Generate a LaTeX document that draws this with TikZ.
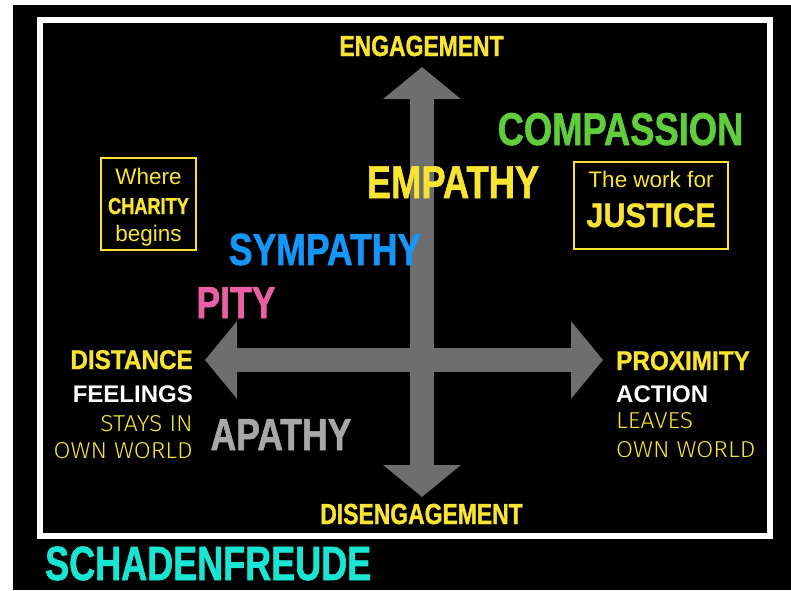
\documentclass[tikz,border=0pt]{standalone}
\usepackage{fontspec}
\setmainfont{Liberation Sans}
\newfontfamily\condfont[FakeStretch=0.79,FakeBold=1.2]{Liberation Sans}
\newfontfamily\midfont[FakeStretch=0.9,FakeBold=1.0]{Liberation Sans}
\newfontfamily\schadfont[FakeStretch=0.75,FakeBold=1.3]{Liberation Sans}
\newfontfamily\lightfont[FakeStretch=1.07]{Fira Sans Light}
\usepackage{tikz}
\usetikzlibrary{arrows.meta,positioning}
\usepackage{xcolor}
\definecolor{slyellow}{RGB}{250,228,50}
\definecolor{slgreen}{RGB}{95,205,60}
\definecolor{slblue}{RGB}{20,150,250}
\definecolor{slpink}{RGB}{235,95,165}
\definecolor{slcyan}{RGB}{25,230,210}
\definecolor{slgray}{RGB}{110,110,110}
\definecolor{slapathy}{RGB}{168,168,168}
\tikzstyle{axis} = [line width=24pt, color=slgray, {Triangle[width=76pt,length=32pt]}-{Triangle[width=76pt,length=32pt]}]
\tikzstyle{bigword} = [anchor=base, inner sep=0pt, font={\condfont\bfseries\fontsize{46}{46}\selectfont}]
\tikzstyle{poleword} = [anchor=base, inner sep=0pt, color=slyellow, font={\condfont\bfseries\fontsize{29}{29}\selectfont}]
\tikzstyle{headword} = [inner sep=0pt, color=slyellow, font={\midfont\bfseries\fontsize{27}{27}\selectfont}]
\tikzstyle{actword} = [inner sep=0pt, color=white, font={\bfseries\fontsize{24}{24}\selectfont}]
\tikzstyle{thinword} = [inner sep=0pt, color=slyellow, font={\lightfont\fontsize{23}{23}\selectfont}]
\tikzstyle{yellowbox} = [draw=slyellow, line width=2pt, inner sep=0pt]
\tikzstyle{boxword} = [anchor=base, inner sep=0pt, color=slyellow, font={\fontsize{22.5}{22.5}\selectfont}]

\begin{document}
\begin{tikzpicture}[x=1pt, y=-1pt]
\useasboundingbox (0,0) rectangle (791,590);
% Slide background and frame
\fill[black] (13,5) rectangle (791,590);
\draw[white, line width=6pt] (40,20) rectangle (770,536);

% Axes
\coordinate (up) at (422,67);
\coordinate (down) at (422,497);
\coordinate (far) at (205,360);
\coordinate (near) at (603,360);
\draw[axis] (far) -- (near);
\draw[axis] (down) -- (up);

% Poles of the vertical axis
\node[poleword] (engage) at (421.5,56) {ENGAGEMENT};
\node[poleword] (disengage) at (421.5,524) {DISENGAGEMENT};

% Scale of responses
\node[bigword, color=slgreen] (compassion) at (620.5,145) {COMPASSION};
\node[bigword, color=slyellow] (empathy) at (453,198) {EMPATHY};
\node[bigword, color=slblue, font={\condfont\bfseries\fontsize{45}{45}\selectfont}] (sympathy) at (325,265) {SYMPATHY};
\node[bigword, color=slpink, font={\condfont\bfseries\fontsize{45}{45}\selectfont}] (pity) at (236,318) {PITY};
\node[bigword, color=slapathy, font={\condfont\bfseries\fontsize{45}{45}\selectfont}] (apathy) at (281,450) {APATHY};
\node[anchor=base west, inner sep=0pt, color=slcyan, font={\schadfont\bfseries\fontsize{48}{48}\selectfont}] (schaden) at (45,580) {SCHADENFREUDE};

% Left side
\node[headword, anchor=base east] (distance) at (193,369) {DISTANCE};
\node[actword, anchor=base east] (feelings) at (193,402) {FEELINGS};
\node[thinword, anchor=base east] (stays) at (193,431) {STAYS IN};
\node[thinword, anchor=base east] (ownleft) at (193,458) {OWN WORLD};

% Right side
\node[headword, anchor=base west] (proximity) at (616,370) {PROXIMITY};
\node[actword, anchor=base west] (action) at (616,402) {ACTION};
\node[thinword, anchor=base west] (leaves) at (616,428) {LEAVES};
\node[thinword, anchor=base west] (ownright) at (616,457) {OWN WORLD};

% Boxes
\node[yellowbox, minimum width=95pt, minimum height=92pt] (charitybox) at (148.5,204) {};
\node[boxword] (where) at (148.5,184) {Where};
\node[boxword, font={\condfont\bfseries\fontsize{23}{23}\selectfont}] (charity) at (148.5,214) {CHARITY};
\node[boxword] (begins) at (148.5,241) {begins};

\node[yellowbox, minimum width=154pt, minimum height=87pt] (justicebox) at (651,205.5) {};
\node[boxword] (workfor) at (651,187) {The work for};
\node[boxword, font={\midfont\bfseries\fontsize{34}{34}\selectfont}] (justice) at (651,227) {JUSTICE};
\end{tikzpicture}
\end{document}
